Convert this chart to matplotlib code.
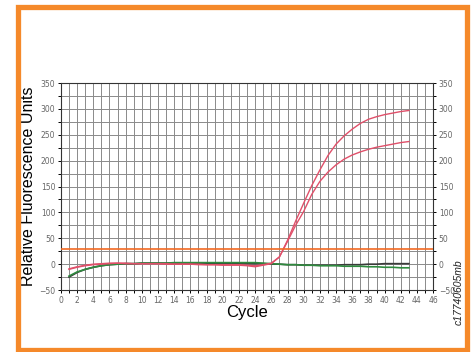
import numpy as np
import matplotlib
matplotlib.use("Agg")
from matplotlib import pyplot as plt
from matplotlib.patches import Rectangle

cycles = list(range(1, 44))

red_a = [-9, -5, -2, 0, 1, 2, 2, 1, 1, 1, 1, 1, 1, 0, 0, 0, 0, -1, -1, -1,
         -1, -1, -2, -3, -1, 2, 14, 46, 83, 118, 152, 182, 210, 232, 248, 261,
         272, 280, 285, 289, 292, 295, 297]
red_b = [-10, -6, -3, -1, 0, 1, 2, 2, 1, 1, 1, 1, 0, 0, 0, 0, -1, -1, -1, -2,
         -2, -2, -3, -5, -2, 1, 14, 44, 75, 102, 135, 160, 178, 192, 203, 211,
         217, 222, 226, 229, 232, 235, 237]
green = [-23, -15, -10, -6, -3, -1, 0, 1, 1, 2, 2, 2, 2, 3, 3, 3, 3, 3, 3, 3,
         3, 3, 3, 3, 2, 1, 0, -1, -1, -2, -2, -3, -3, -3, -4, -4, -4, -5, -5,
         -6, -6, -7, -7]
black = [-25, -16, -10, -6, -3, -1, 0, 1, 1, 2, 2, 2, 2, 2, 2, 2, 2, 2, 1, 1,
         1, 1, 1, 1, 1, 0, 0, -1, -1, -2, -2, -2, -2, -2, -1, -1, -1, 0, 0,
         1, 1, 1, 1]
threshold = 30

fig = plt.figure(figsize=(4.76, 3.52), dpi=100)
ax = fig.add_axes([0.128, 0.176, 0.782, 0.588])

ax.set_xlim(0, 46)
ax.set_ylim(-50, 350)
ax.set_xticks(np.arange(0, 47, 1), minor=True)
ax.set_xticks(np.arange(0, 47, 2))
ax.set_yticks(np.arange(-50, 351, 25), minor=True)
ax.set_yticks(np.arange(-50, 351, 50))
ax.grid(True, which="both", color="#8a8a8a", lw=0.7)
ax.set_axisbelow(True)
ax.tick_params(which="both", direction="out", length=2.5, width=0.7,
               labelsize=5.5, labelcolor="#666666", right=True, labelright=True,
               pad=1.5)
for s in ax.spines.values():
    s.set_color("#333333")
    s.set_linewidth(0.8)

ax.axhline(threshold, color="#f26a22", lw=1.2, zorder=5)
ax.plot(cycles, black, color="#3a3a3a", lw=1.2)
ax.plot(cycles, green, color="#2e8a3e", lw=1.2)
ax.plot(cycles, red_b, color="#e0506a", lw=1.0)
ax.plot(cycles, red_a, color="#e0506a", lw=1.0)

ax.set_ylabel("Relative Fluorescence Units", fontsize=11.5,
              family="Liberation Sans", labelpad=2)
ax.set_xlabel("Cycle", fontsize=12, family="Liberation Sans", labelpad=0)

fig.text(0.963, 0.17, "c17740605mb", rotation=90, style="italic",
         fontsize=7.5, family="Liberation Sans", color="#222222",
         ha="center", va="center")

fig.patches.append(Rectangle((0.0368, 0.0071), 0.944, 0.973,
                             transform=fig.transFigure, fill=False,
                             edgecolor="#f5892a", lw=3.8))

fig.savefig("out.png", dpi=100)
